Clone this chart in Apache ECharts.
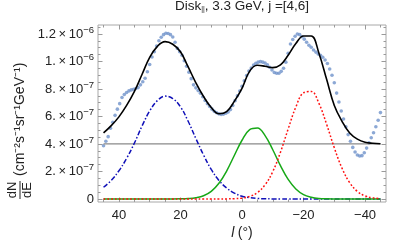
<!DOCTYPE html>
<html><head><meta charset="utf-8">
<script src="https://cdn.jsdelivr.net/npm/echarts@6/dist/echarts.min.js"></script>
<style>html,body{margin:0;padding:0;background:#fff}#c{width:407px;height:242px}</style>
</head><body><div id="c"></div>
<script>
// Galactic longitude (deg) of the binned data points
const lDots=[45,44.25,43.5,42.75,42,41.25,40.5,39.75,39,38.25,37.5,36.75,36,35.25,34.5,33.75,33,32.25,31.5,30.75,30,29.25,28.5,27.75,27,26.25,25.5,24.75,24,23.25,22.5,21.75,21,20.25,19.5,18.75,18,17.25,16.5,15.75,15,14.25,13.5,12.75,12,11.25,10.5,9.75,9,8.25,7.5,6.75,6,5.25,4.5,3.75,3,2.25,1.5,0.75,0,-0.75,-1.5,-2.25,-3,-3.75,-4.5,-5.25,-6,-6.75,-7.5,-8.25,-9,-9.75,-10.5,-11.25,-12,-12.75,-13.5,-14.25,-15,-15.75,-16.5,-17.25,-18,-18.75,-19.5,-20.25,-21,-21.75,-22.5,-23.25,-24,-24.75,-25.5,-26.25,-27,-27.75,-28.5,-29.25,-30,-30.75,-31.5,-32.25,-33,-33.75,-34.5,-35.25,-36,-36.75,-37.5,-38.25,-39,-39.75,-40.5,-41.25,-42,-42.75,-43.5,-44.25,-45];
// data values in units of 1e-7
const dotValues=[3.87,4.2,4.53,5.15,5.57,6.08,6.53,6.93,7.38,7.6,7.74,7.86,7.93,7.98,8.03,8.1,8.3,8.52,8.78,9.25,9.78,10.32,10.7,11.12,11.5,11.76,11.95,12.05,12.03,11.95,11.78,11.4,10.95,10.7,10.45,10.05,9.65,9.22,8.75,8.3,8.08,7.88,7.69,7.43,7.16,6.92,6.72,6.53,6.37,6.27,6.19,6.15,6.17,6.23,6.33,6.5,6.8,7.15,7.5,7.85,8.2,8.6,8.98,9.3,9.52,9.74,9.86,9.95,9.99,9.95,9.88,9.76,9.58,9.38,9.2,9.14,9.14,9.28,9.5,9.95,10.6,11.27,11.6,11.83,12.0,11.95,11.8,11.62,11.4,11.18,11.03,10.83,10.68,10.55,10.45,10.3,10.1,9.85,9.45,9.0,8.45,7.7,7.05,6.4,5.82,5.25,4.68,4.2,3.75,3.42,3.2,3.12,3.15,3.36,3.7,4.08,4.45,4.82,5.25,5.72,6.28];
// model curves sampled in longitude
const lModel=[45,42.5,40,37.5,35,32.5,30,27.5,25,22.5,20,17.5,15,12.5,10,7.5,5,2.5,0,-2.5,-5,-7.5,-10,-12.5,-15,-17.5,-20,-22.5,-25,-27.5,-30,-32.5,-35,-37.5,-40,-42.5,-45];
const totalModel=[4.8,5.33,5.97,6.8,7.8,9.05,10.3,11.1,11.44,11.25,10.7,9.6,8.45,7.45,6.65,6.2,6.35,7.1,8.05,9.3,9.72,9.65,9.55,9.75,10.45,11.3,11.85,11.85,10.6,8.7,6.8,5.65,4.8,4.35,4.12,4.05,4.02];
const blueComp=[0.85,1.35,2.05,2.95,4.05,5.3,6.4,7.15,7.48,7.3,6.7,5.65,4.4,3.2,2.15,1.35,0.8,0.43,0.2,0.1,0.04,0.015,0.005,0,0,0,0,0,0,0,0,0,0,0,0,0,0];
const greenComp=[0,0,0,0,0,0,0,0,0,0,0.008,0.03,0.09,0.23,0.55,1.14,2.03,3.16,4.27,5.04,5.16,4.61,3.58,2.42,1.42,0.73,0.32,0.13,0.04,0.012,0.003,0,0,0,0,0,0];
const redComp=[0,0,0,0,0,0,0,0,0,0,0,0,0,0,0,0,0.005,0.02,0.06,0.18,0.46,1.03,1.99,3.4,5.09,6.69,7.72,7.82,6.95,5.43,3.72,2.24,1.18,0.55,0.22,0.08,0.025];
const lIso=[45,-45];
const isoValues=[4,4];
// axis ticks
const xTicks=[40,20,0,-20,-40];
const xMinor=[45,35,30,25,15,10,5,-5,-10,-15,-25,-30,-35,-45];
const yTicks=[0,2,4,6,8,10,12];
const yMantissa=['0','2.','4.','6.','8.','1.','1.2'];
const yExponent=['','−7','−7','−7','−7','−6','−6'];
const yMinor=[0.5,1,1.5,2.5,3,3.5,4.5,5,5.5,6.5,7,7.5,8.5,9,9.5,10.5,11,11.5,12.5];

const FONT='"Liberation Sans", Arial, sans-serif';
const TXT='#222';
const pairs=(xs,ys)=>xs.map((x,i)=>[x,ys[i]]);

function xAx(pos,ticks,len,labels){
  return {type:'value',position:pos,min:-46.8,max:46.8,inverse:true,
    axisLine:{show:false,onZero:false},splitLine:{show:false},
    axisTick:{show:true,inside:true,length:len,customValues:ticks,lineStyle:{color:'#9a9a9a',width:1}},
    axisLabel:{show:labels,customValues:ticks,margin:7,fontFamily:FONT,fontSize:13,color:TXT,
      formatter:v=>(v<0?'\u2212'+(-v):String(v))}};
}
function yAx(pos,ticks,len,labels){
  return {type:'value',position:pos,min:-0.22,max:12.65,
    axisLine:{show:false,onZero:false},splitLine:{show:false},
    axisTick:{show:true,inside:true,length:len,customValues:ticks,lineStyle:{color:'#9a9a9a',width:1}},
    axisLabel:{show:labels,customValues:ticks,margin:4,fontFamily:FONT,fontSize:13,color:TXT,
      rich:{b:{fontFamily:FONT,fontSize:13,color:TXT},e:{fontFamily:FONT,fontSize:9.5,color:TXT,padding:[0,0,8,0]}},
      formatter:v=>{const i=yTicks.indexOf(Math.round(v*1000)/1000);if(i<0)return '';
        return yExponent[i]?'{b|'+yMantissa[i]+'\u2009×\u200910}{e|'+yExponent[i]+'}':'{b|'+yMantissa[i]+'}';}}};
}

const chart=echarts.init(document.getElementById('c'),null,{renderer:'canvas'});
chart.setOption({
  animation:false,
  grid:{left:98,right:21,top:25,bottom:40,show:true,borderColor:'#a8a8a8',borderWidth:1,backgroundColor:'transparent'},
  xAxis:[xAx('bottom',xTicks,4.5,true),xAx('bottom',xMinor,2.5,false),xAx('top',xTicks,4.5,false),xAx('top',xMinor,2.5,false)],
  yAxis:[yAx('left',yTicks,4.5,true),yAx('left',yMinor,2.5,false),yAx('right',yTicks,4.5,false),yAx('right',yMinor,2.5,false)],
  series:[
    {type:'scatter',data:pairs(lDots,dotValues),symbol:'circle',symbolSize:3.6,itemStyle:{color:'#6f92ca'},z:2},
    {type:'line',data:pairs(lIso,isoValues),showSymbol:false,lineStyle:{color:'#8a8a8a',width:1.3},z:3},
    {type:'line',data:pairs(lModel,blueComp),smooth:0.4,showSymbol:false,lineStyle:{color:'#1010b8',width:1.5,type:[5,2,1.5,2]},z:4},
    {type:'line',data:pairs(lModel,greenComp),smooth:0.4,showSymbol:false,lineStyle:{color:'#17a817',width:1.5},z:4},
    {type:'line',data:pairs(lModel,redComp),smooth:0.4,showSymbol:false,lineStyle:{color:'#ff1010',width:1.5,type:[1.8,2]},z:4},
    {type:'line',data:pairs(lModel,totalModel),smooth:0.4,showSymbol:false,lineStyle:{color:'#000',width:1.6},z:5}
  ],
  graphic:[
    {type:'text',x:242,y:6,style:{rich:{a:{fontFamily:FONT,fontSize:13.5,fill:TXT,color:TXT},s:{fontFamily:FONT,fontSize:7,fill:TXT,color:TXT,padding:[7,0,0,0]}},text:'{a|Disk}{s|||}{a|, 3.3 GeV, j =[4,6]}',align:'center',verticalAlign:'middle',textAlign:'center',textVerticalAlign:'middle',fill:TXT}},
    {type:'text',x:242,y:233,style:{rich:{i:{fontFamily:FONT,fontSize:14,fontStyle:'italic',fill:TXT},n:{fontFamily:FONT,fontSize:14,fill:TXT}},text:'{i|l} {n|(°)}',align:'center',verticalAlign:'middle',textAlign:'center',textVerticalAlign:'middle',fill:TXT}},
    {type:'group',x:20,y:200,rotation:Math.PI/2,children:[
      {type:'text',x:10,y:-1,style:{text:'dN',font:'13px '+FONT,fill:TXT,align:'center',verticalAlign:'bottom',textAlign:'center',textVerticalAlign:'bottom'}},
      {type:'line',shape:{x1:1,y1:0,x2:19,y2:0},style:{stroke:TXT,lineWidth:1}},
      {type:'text',x:10,y:1,style:{text:'dE',font:'13px '+FONT,fill:TXT,align:'center',verticalAlign:'top',textAlign:'center',textVerticalAlign:'top'}},
      {type:'text',x:24,y:0,style:{text:'(cm\u207B\u00B2s\u207B\u00B9sr\u207B\u00B9GeV\u207B\u00B9)',font:'14px '+FONT,fill:TXT,align:'left',verticalAlign:'middle',textAlign:'left',textVerticalAlign:'middle'}}
    ]}
  ]
});
</script></body></html>
